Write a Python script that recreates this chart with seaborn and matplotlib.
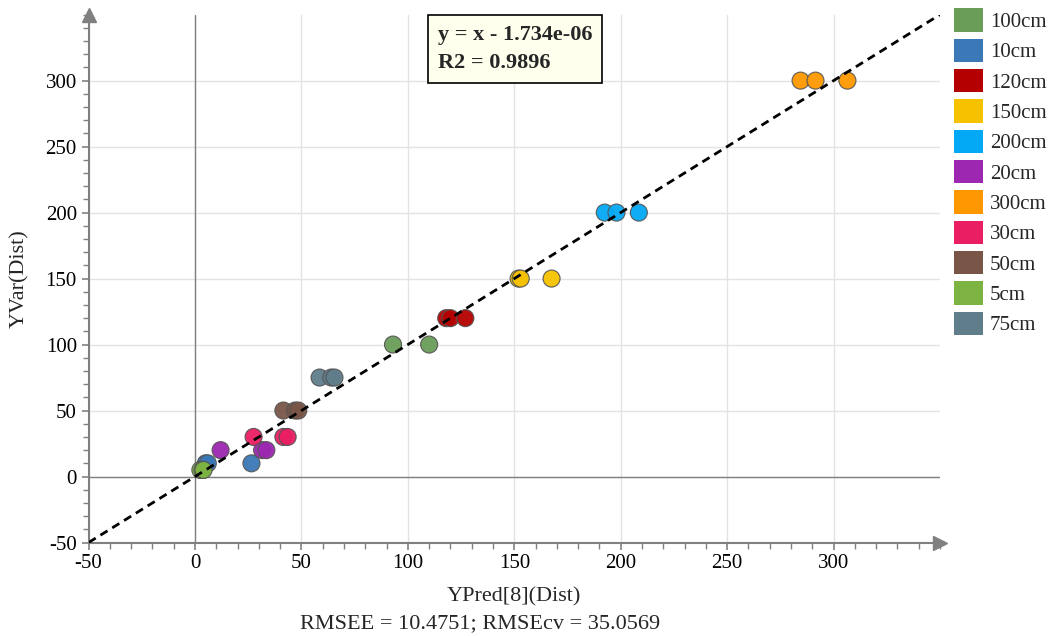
import matplotlib
matplotlib.use("Agg")
import matplotlib.pyplot as plt
from matplotlib.patches import Patch
from matplotlib.ticker import MultipleLocator
import pandas as pd
import seaborn as sns

# data
groups = ["100cm", "100cm", "10cm", "10cm", "10cm", "120cm", "120cm", "120cm",
          "150cm", "150cm", "150cm", "200cm", "200cm", "200cm",
          "20cm", "20cm", "20cm", "300cm", "300cm", "300cm",
          "30cm", "30cm", "30cm", "50cm", "50cm", "50cm",
          "5cm", "5cm", "5cm", "75cm", "75cm", "75cm"]
ypred = [93.0, 110.0, 5.0, 6.0, 26.5, 118.0, 120.0, 127.0,
         152.0, 153.0, 167.5, 192.5, 198.0, 208.5,
         12.0, 31.5, 33.5, 284.5, 291.5, 306.5,
         27.5, 41.5, 43.5, 41.5, 47.0, 48.5,
         2.5, 3.5, 4.0, 58.5, 64.0, 65.5]
yvar = [100, 100, 10, 10, 10, 120, 120, 120,
        150, 150, 150, 200, 200, 200,
        20, 20, 20, 300, 300, 300,
        30, 30, 30, 50, 50, 50,
        5, 5, 5, 75, 75, 75]

labels = ["100cm", "10cm", "120cm", "150cm", "200cm", "20cm",
          "300cm", "30cm", "50cm", "5cm", "75cm"]
colors = ["#6a9d58", "#3a78b7", "#b40000", "#f6c200", "#03a9f4", "#9c27b0",
          "#ff9800", "#e91e63", "#795548", "#7cb342", "#607d8b"]
ticks = [-50, 0, 50, 100, 150, 200, 250, 300]

df = pd.DataFrame({"YPred": ypred, "YVar": yvar, "group": groups})

sns.set_style("white")
plt.rcParams["font.family"] = ["Liberation Serif", "DejaVu Serif"]
plt.rcParams["axes.unicode_minus"] = False

fig = plt.figure(figsize=(10.55, 6.36), dpi=100)
ax = fig.add_axes([0.084, 0.147, 0.807, 0.83])

ax.set_xlim(-50, 350)
ax.set_ylim(-50, 350)
ax.set_xticks(ticks)
ax.set_yticks(ticks)
ax.xaxis.set_minor_locator(MultipleLocator(10))
ax.yaxis.set_minor_locator(MultipleLocator(10))
ax.grid(True, which="major", color="#e3e3e3", linewidth=1)
ax.set_axisbelow(True)

ax.axhline(0, color="#808080", linewidth=1, zorder=1)
ax.axvline(0, color="#808080", linewidth=1, zorder=1)

ax.plot([-50, 350], [-50, 350], linestyle="--", color="black",
        linewidth=2, zorder=4, dashes=(3, 2))

sns.scatterplot(data=df, x="YPred", y="YVar", hue="group",
                hue_order=labels, palette=dict(zip(labels, colors)),
                s=150, edgecolor="#555555", linewidth=0.8, alpha=0.95,
                legend=False, ax=ax, zorder=3)

for side in ["top", "right"]:
    ax.spines[side].set_visible(False)
for side in ["left", "bottom"]:
    ax.spines[side].set_color("#808080")
    ax.spines[side].set_linewidth(1.5)
ax.plot(1, 0, ">", color="#808080", markersize=10, transform=ax.transAxes,
        clip_on=False)
ax.plot(0, 1, "^", color="#808080", markersize=10, transform=ax.transAxes,
        clip_on=False)

ax.tick_params(axis="both", which="major", direction="out", length=5,
               width=1.2, color="#808080", labelsize=15, labelcolor="black",
               bottom=True, left=True)
ax.tick_params(axis="both", which="minor", direction="out", length=4,
               width=1, color="#808080", bottom=True, left=True)

ax.set_xlabel("YPred[8](Dist)", fontsize=16, labelpad=10)
ax.set_ylabel("YVar(Dist)", fontsize=16, labelpad=12)
fig.text(0.455, 0.012, "RMSEE = 10.4751; RMSEcv = 35.0569", ha="center",
         fontsize=16)

ax.text(0.41, 0.935, "y = x - 1.734e-06\nR2 = 0.9896", transform=ax.transAxes,
        fontsize=16, fontweight="bold", va="center", ha="left", zorder=6,
        linespacing=1.5,
        bbox=dict(boxstyle="square,pad=0.45", facecolor="#ffffee",
                  edgecolor="black", linewidth=1.2))

handles = [Patch(facecolor=c, edgecolor="none", label=l)
           for l, c in zip(labels, colors)]
leg = fig.legend(handles=handles, loc="upper left",
                 bbox_to_anchor=(0.888, 1.013), frameon=False, fontsize=15,
                 handlelength=1.4, handleheight=1.35, handletextpad=0.35,
                 labelspacing=0.32, borderpad=0.3)

fig.savefig("out.png", dpi=100)
